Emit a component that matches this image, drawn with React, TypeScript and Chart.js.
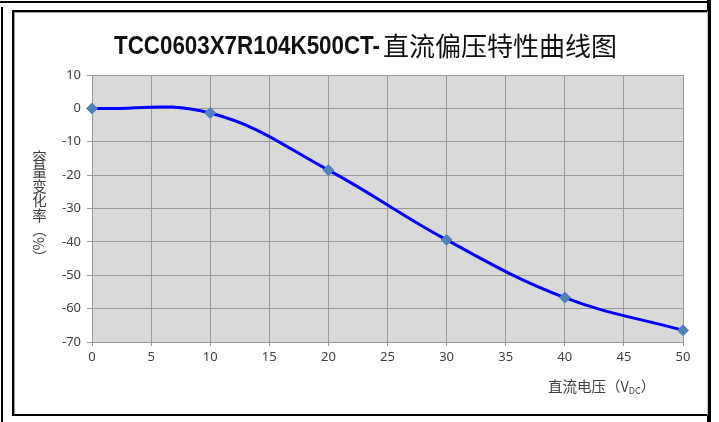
import React, { useEffect, useRef } from "react";
import { Chart, registerables } from "chart.js";

Chart.register(...registerables);

const voltages = [0, 10, 20, 30, 40, 50];
const capChange = [0, -1.4, -18.5, -39.4, -56.7, -66.5];
const xTickMin = 0;
const xTickMax = 50;
const xTickStep = 5;
const yTickMin = -70;
const yTickMax = 10;
const yTickStep = 10;

const titleLatin = "TCC0603X7R104K500CT-";
const titleCJK = "直流偏压特性曲线图";
const yTitle = "容量变化率（%）";
const xTitleMain = "直流电压（V";
const xTitleSub = "DC";
const xTitleEnd = "）";

const plotBg = {
  id: "plotBg",
  beforeDraw(chart: any) {
    const { ctx, chartArea } = chart;
    if (!chartArea) return;
    ctx.save();
    ctx.fillStyle = "#d9d9d9";
    ctx.fillRect(chartArea.left, chartArea.top, chartArea.right - chartArea.left, chartArea.bottom - chartArea.top);
    ctx.restore();
  },
};

export default function App() {
  const ref = useRef<HTMLCanvasElement | null>(null);

  useEffect(() => {
    if (!ref.current) return;
    const chart = new Chart(ref.current, {
      type: "line",
      data: {
        datasets: [
          {
            data: voltages.map((v, i) => ({ x: v, y: capChange[i] })),
            borderColor: "#0000ff",
            borderWidth: 3,
            tension: 0.4,
            pointStyle: "rectRot",
            pointRadius: 5.5,
            pointBackgroundColor: "#4f81bd",
            pointBorderColor: "#4f81bd",
            pointBorderWidth: 1,
            fill: false,
            clip: false as any,
          },
        ],
      },
      options: {
        animation: false,
        responsive: false,
        devicePixelRatio: 1,
        layout: { padding: { left: 0, top: 75, right: 36, bottom: 50 } },
        plugins: { legend: { display: false }, tooltip: { enabled: false }, title: { display: false } },
        scales: {
          x: {
            type: "linear",
            min: xTickMin,
            max: xTickMax,
            ticks: {
              stepSize: xTickStep,
              color: "#404040",
              font: { family: "'Noto Sans', sans-serif", size: 13 },
              padding: 3,
              maxRotation: 0,
            },
            grid: { color: "#9a9a9a", tickLength: 4, lineWidth: 1 },
            border: { color: "#9a9a9a" },
            afterFit(axis: any) {
              axis.height = 30;
            },
          },
          y: {
            type: "linear",
            min: yTickMin,
            max: yTickMax,
            ticks: {
              stepSize: yTickStep,
              color: "#404040",
              font: { family: "'Noto Sans', sans-serif", size: 13 },
              padding: 6,
            },
            grid: { color: "#9a9a9a", tickLength: 5, lineWidth: 1 },
            border: { color: "#9a9a9a" },
            afterFit(axis: any) {
              axis.width = 92;
            },
          },
        },
      },
      plugins: [plotBg],
    });
    return () => chart.destroy();
  }, []);

  const black = "#000";
  return (
    <div style={{ position: "fixed", left: 0, top: 0, width: 719, height: 422, background: "#fff", overflow: "hidden" }}>
      <div style={{ position: "absolute", left: 0, top: 1, width: 707, height: 2, background: black }} />
      <div style={{ position: "absolute", left: 1, top: 7, width: 2, height: 415, background: black }} />
      <div style={{ position: "absolute", left: 707, top: 0, width: 4, height: 422, background: black }} />
      <div
        style={{
          position: "absolute",
          left: 12,
          top: 10,
          width: 693,
          height: 402,
          borderTop: "2px solid #000",
          borderLeft: "2px solid #000",
          borderBottom: "2px solid #000",
          borderRight: "1px solid #bfbfbf",
          boxShadow: "inset 1px 1px 0 #9a9a9a",
        }}
      />
      <canvas ref={ref} width={719} height={422} style={{ position: "absolute", left: 0, top: 0, width: 719, height: 422 }} />
      <div
        style={{
          position: "absolute",
          left: 114,
          top: 25,
          whiteSpace: "nowrap",
          color: "#111",
          lineHeight: "40px",
          fontFamily: "'Liberation Sans', Arial, sans-serif",
          fontWeight: 700,
          fontSize: 26,
          transform: "scaleX(0.86)",
          transformOrigin: "0 0",
        }}
      >
        {titleLatin}
      </div>
      <div
        style={{
          position: "absolute",
          left: 383,
          top: 25,
          whiteSpace: "nowrap",
          color: "#111",
          lineHeight: "40px",
          fontFamily: "'Noto Sans CJK SC', sans-serif",
          fontWeight: 400,
          fontSize: 26,
        }}
      >
        {titleCJK}
      </div>
      <div
        style={{
          position: "absolute",
          left: 31,
          top: 150,
          writingMode: "vertical-rl",
          fontFamily: "'Noto Sans CJK SC', sans-serif",
          fontSize: 14.5,
          color: "#404040",
          lineHeight: "16px",
          whiteSpace: "nowrap",
        }}
      >
        {yTitle}
      </div>
      <div
        style={{
          position: "absolute",
          left: 548,
          top: 376,
          fontFamily: "'Noto Sans CJK SC', sans-serif",
          fontSize: 14.5,
          color: "#404040",
          whiteSpace: "nowrap",
          lineHeight: "20px",
        }}
      >
        {xTitleMain}
        <sub style={{ fontSize: 9, verticalAlign: "-2px" }}>{xTitleSub}</sub>
        {xTitleEnd}
      </div>
    </div>
  );
}
